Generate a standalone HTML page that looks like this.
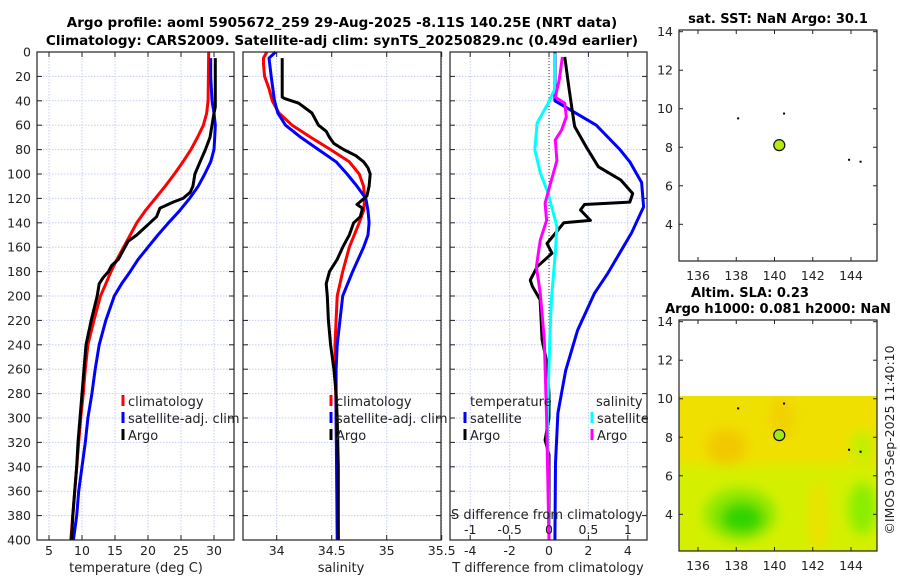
<!DOCTYPE html>
<html><head><meta charset="utf-8">
<style>
html,body{margin:0;padding:0;background:#fff;}
svg{display:block;font-family:"DejaVu Sans","Liberation Sans",sans-serif;}
</style></head>
<body>
<svg id="fig" width="900" height="580" viewBox="0 0 900 580" xmlns="http://www.w3.org/2000/svg">
<defs>
<filter id="blur" x="-20%" y="-20%" width="140%" height="140%"><feGaussianBlur stdDeviation="6"/></filter>
<clipPath id="mapclip"><rect x="679" y="396" width="198" height="155"/></clipPath>
</defs>
<text x="342" y="27" text-anchor="middle" font-size="13.5" font-weight="bold">Argo profile: aoml 5905672_259 29-Aug-2025 -8.11S 140.25E (NRT data)</text>
<text x="342" y="45" text-anchor="middle" font-size="13.5" font-weight="bold">Climatology: CARS2009. Satellite-adj clim: synTS_20250829.nc (0.49d earlier)</text>
<g id="g1"></g><g id="g2"></g><g id="g3"></g><g id="gm"></g>
<text transform="translate(894,440) rotate(-90)" text-anchor="middle" font-size="12.5" fill="#222">©IMOS 03-Sep-2025 11:40:10</text>
</svg>
<script>
// ---- data ----
const depthTicks=[0,20,40,60,80,100,120,140,160,180,200,220,240,260,280,300,320,340,360,380,400];
const tempTicks=[5,10,15,20,25,30];
const salTicks=[34,34.5,35,35.5];
const tdiffTicks=[-4,-2,0,2,4];
const sdiffTicks=[-1,-0.5,0,0.5,1];
const sdiffTickLabels=["-1","-0.5","0","0.5","1"];
const salTickLabels=["34","34.5","35","35.5"];

const climDepth=[0,40,50,60,70,80,90,100,110,120,130,140,150,160,170,180,190,200,220,240,260,280,300,320,340,360,380,400];
const climTemp=[29.2,29.1,28.9,28.4,27.5,26.5,25.3,24.0,22.6,21.1,19.6,18.3,17.3,16.3,15.3,14.4,13.6,12.8,11.8,10.9,10.5,10.2,9.8,9.5,9.2,8.9,8.6,8.3];
const climSalDepth=[0,5,10,20,30,40,50,60,70,80,90,100,110,120,130,140,160,180,200,240,300,400];
const climSal=[33.91,33.88,33.88,33.89,33.93,33.96,34.02,34.14,34.31,34.49,34.66,34.75,34.79,34.80,34.79,34.75,34.66,34.60,34.55,34.53,34.54,34.56];

const satDepth=[5,20,40,50,60,70,80,90,100,110,120,130,140,150,160,170,180,190,200,220,240,260,280,300,320,340,360,380,400];
const satTemp=[29.5,29.5,29.7,30.0,30.2,30.1,30.0,29.5,28.6,27.6,26.3,24.8,23.1,21.5,20.0,18.5,17.3,16.0,14.9,13.6,12.6,12.0,11.5,10.9,10.5,10.0,9.5,9.2,8.7];
const satSalDepth=[0,5,20,40,50,60,70,80,90,100,110,120,130,140,150,160,180,200,240,260,300,400];
const satSal=[33.99,33.93,33.95,33.98,34.01,34.08,34.22,34.38,34.54,34.64,34.73,34.81,34.83,34.84,34.83,34.79,34.69,34.60,34.55,34.54,34.54,34.55];

const argoDepth=[5,45,50,60,70,80,90,100,110,115,120,123,128,135,140,145,150,155,160,170,175,180,185,190,200,220,240,260,280,300,320,340,360,380,400];
const argoTemp=[30.2,30.2,30.0,29.7,29.4,28.7,27.9,27.1,26.8,26.4,25.3,23.8,21.8,21.3,20.3,19.3,18.3,17.0,16.5,15.5,14.5,14.0,13.2,12.6,12.3,11.4,10.6,10.3,10.0,9.7,9.4,9.2,8.9,8.6,8.4];
const argoSalDepth=[5,37,38,42,50,60,65,70,75,80,85,90,95,100,110,118,125,128,135,140,150,160,170,180,190,200,220,240,260,280,300,340,400];
const argoSal=[34.05,34.05,34.07,34.20,34.32,34.38,34.45,34.48,34.52,34.61,34.72,34.79,34.83,34.85,34.84,34.82,34.73,34.78,34.76,34.70,34.66,34.60,34.55,34.48,34.45,34.46,34.47,34.49,34.52,34.54,34.55,34.56,34.56];

const tSatDiffDepth=[0,40,60,80,90,107,127,148,181,198,228,261,296,337,400];
const tSatDiff=[0.3,0.3,2.4,3.6,4.1,4.7,4.8,4.2,3.0,2.3,1.45,0.85,0.45,0.33,0.3];
const tArgoDiffDepth=[4,28,45,61,78,94,105,116,123,125,129.5,138,140,148,157,165,176,187,192,203,236,255,280,300,318,330,400];
const tArgoDiff=[0.8,1.0,1.15,1.3,1.9,2.5,3.65,4.25,4.1,1.8,1.6,2.1,0.75,0.35,-0.1,0.15,-0.6,-0.95,-0.85,-0.45,-0.35,-0.1,0,0,-0.2,0,0];
const sSatDiffDepth=[1,31,42,58,80,99,116,143,165,203,236,300,400];
const sSatDiff=[0.07,0.07,-0.01,-0.15,-0.18,-0.11,-0.01,0.1,0.08,0.03,0.01,-0.02,0];
const sArgoDiffDepth=[4,23,37,42,53,64,72,89,105,124,138,154,176,198,236,300,400];
const sArgoDiff=[0.17,0.13,0.08,0.2,0.22,0.16,0.08,0.1,0.03,-0.05,-0.03,-0.11,-0.16,-0.11,-0.06,-0.03,0];

const latTicks=[4,6,8,10,12,14];
const lonTicks=[136,138,140,142,144];
const argoLon=[140.25];
const argoLat=[8.11];
const coastLon=[138.1,140.5,143.9,144.5];
const coastLat=[9.5,9.75,7.35,7.25];

// ---- helpers ----
const NS='http://www.w3.org/2000/svg';
function mk(parent,tag,attrs,text){const e=document.createElementNS(NS,tag);for(const k in attrs)e.setAttribute(k,attrs[k]);if(text!==undefined)e.textContent=text;parent.appendChild(e);return e;}
const TOP=52,BOT=540;
const yD=d=>TOP+d*(BOT-TOP)/400;
function linScale(v0,p0,v1,p1){return v=>p0+(v-v0)*(p1-p0)/(v1-v0);}

function drawPanel(gid,L,R,xs,xticks,xtlabels,name,yLabels){
  const g=document.getElementById(gid);
  
  
  const grid=mk(g,'g',{});
  
  
  depthTicks.forEach(d=>{
    const l=mk(grid,'line',{x1:L,x2:R,y1:yD(d),y2:yD(d),stroke:'#c5cdf0','stroke-width':1,'stroke-dasharray':'1.5,1.5'});
    
    
    mk(g,'line',{x1:L,x2:L+5,y1:yD(d),y2:yD(d),stroke:'#222'});
    mk(g,'line',{x1:R-5,x2:R,y1:yD(d),y2:yD(d),stroke:'#222'});
    if(yLabels){const t=mk(g,'text',{x:L-6,y:yD(d)+4.5,'text-anchor':'end','font-size':12.5,fill:'#222'},String(d));
      
      }
  });
  xticks.forEach((v,i)=>{
    const x=xs(v);
    const l=mk(grid,'line',{x1:x,x2:x,y1:TOP,y2:BOT,stroke:'#c5cdf0','stroke-width':1,'stroke-dasharray':'1.5,1.5'});
    
    
    mk(g,'line',{x1:x,x2:x,y1:BOT,y2:BOT-5,stroke:'#222'});
    mk(g,'line',{x1:x,x2:x,y1:TOP,y2:TOP+5,stroke:'#222'});
    const t=mk(g,'text',{x:x,y:555,'text-anchor':'middle','font-size':12.5,fill:'#222'},xtlabels[i]);
    
    
  });
  return g;
}
function series(g,xs,depths,vals,color,name,w){
  const pts=depths.map((d,i)=>xs(vals[i]).toFixed(1)+','+yD(d).toFixed(1)).join(' ');
  const p=mk(g,'polyline',{points:pts,fill:'none',stroke:color,'stroke-width':w||3,'stroke-linejoin':'round'});
  
  
}
function frame(g,L,R){mk(g,'rect',{x:L,y:TOP,width:R-L,height:BOT-TOP,fill:'none',stroke:'#222','stroke-width':1.2});}
function legend(g,x,y,color,label,name){
  const m=mk(g,'rect',{x:x-1.5,y:y-11,width:3,height:11,fill:color});
  
  
  const t=mk(g,'text',{x:x+5,y:y,'font-size':13,fill:'#222'},label);
  
  
}

// Panel 1: temperature
const xT=linScale(5,49,30,214);
let g=drawPanel('g1',37,234,xT,tempTicks,tempTicks.map(String),'temperature-panel',true);
series(g,xT,climDepth,climTemp,'#ff0000','temp-climatology-line');
series(g,xT,satDepth,satTemp,'#0000ff','temp-satellite-line');
series(g,xT,argoDepth,argoTemp,'#000000','temp-argo-line');
frame(g,37,234);
legend(g,123,406,'#ff0000','climatology','legend-climatology');
legend(g,123,423,'#0000ff','satellite-adj. clim','legend-satellite');
legend(g,123,440,'#000000','Argo','legend-argo');
let t=mk(g,'text',{x:136,y:572,'text-anchor':'middle','font-size':13,fill:'#222'},'temperature (deg C)');



// Panel 2: salinity
const xS=linScale(34,276.7,35,386.7);
g=drawPanel('g2',243,441,xS,salTicks,salTickLabels,'salinity-panel',false);
series(g,xS,climSalDepth,climSal,'#ff0000','sal-climatology-line');
series(g,xS,satSalDepth,satSal,'#0000ff','sal-satellite-line');
series(g,xS,argoSalDepth,argoSal,'#000000','sal-argo-line');
frame(g,243,441);
legend(g,331,406,'#ff0000','climatology','legend-climatology');
legend(g,331,423,'#0000ff','satellite-adj. clim','legend-satellite');
legend(g,331,440,'#000000','Argo','legend-argo');
t=mk(g,'text',{x:341,y:572,'text-anchor':'middle','font-size':13,fill:'#222'},'salinity');



// Panel 3: differences
const xTd=linScale(0,549,4,627.8);
const xSd=linScale(0,549,1,627.8);
g=drawPanel('g3',450,647,xTd,tdiffTicks,tdiffTicks.map(String),'difference-panel',false);
const zl=mk(g,'line',{x1:549,x2:549,y1:TOP,y2:BOT,stroke:'#333','stroke-width':1,'stroke-dasharray':'1,2'});


series(g,xTd,tSatDiffDepth,tSatDiff,'#0000ff','tdiff-satellite-line');
series(g,xTd,tArgoDiffDepth,tArgoDiff,'#000000','tdiff-argo-line');
series(g,xSd,sSatDiffDepth,sSatDiff,'#00ffff','sdiff-satellite-line');
series(g,xSd,sArgoDiffDepth,sArgoDiff,'#ff00ff','sdiff-argo-line');
frame(g,450,647);
t=mk(g,'text',{x:470,y:406,'font-size':13,fill:'#222'},'temperature');


t=mk(g,'text',{x:596,y:406,'font-size':13,fill:'#222'},'salinity');


legend(g,465,423,'#0000ff','satellite','legend-t-satellite');
legend(g,465,440,'#000000','Argo','legend-t-argo');
legend(g,592,423,'#00ffff','satellite','legend-s-satellite');
legend(g,592,440,'#ff00ff','Argo','legend-s-argo');
t=mk(g,'text',{x:451,y:519,'font-size':13,fill:'#222'},'S difference from climatology');


sdiffTicks.forEach((v,i)=>{
  const tl=mk(g,'text',{x:xSd(v),y:534,'text-anchor':'middle','font-size':12.5,fill:'#222'},sdiffTickLabels[i]);
  
  
});
t=mk(g,'text',{x:548,y:572,'text-anchor':'middle','font-size':13,fill:'#222'},'T difference from climatology');



// Maps
const gm=document.getElementById('gm');
const xLon=linScale(136,698,144,851);
function drawMap(oy,title,name,dotColor,heat){
  const mg=mk(gm,'g',{});
  
  
  const yLat=linScale(14,31.7+oy,4,224.3+oy);
  if(heat){
    const hg=mk(mg,'g',{'clip-path':'url(#mapclip)'});
    
    
    mk(hg,'rect',{x:679,y:396,width:198,height:155,fill:'#d4f000'});
    const bl=mk(hg,'g',{filter:'url(#blur)'});
    mk(bl,'rect',{x:660,y:380,width:240,height:85,fill:'#f0e000'});
    mk(bl,'ellipse',{cx:xLon(137.5),cy:yLat(7.5),rx:20,ry:18,fill:'#f2c800'});
    mk(bl,'ellipse',{cx:xLon(140.4),cy:yLat(9.0),rx:12,ry:22,fill:'#f2d000'});
    mk(bl,'ellipse',{cx:xLon(142.3),cy:yLat(3.8),rx:9,ry:40,fill:'#eee000'});
    mk(bl,'ellipse',{cx:xLon(138.2),cy:yLat(4.0),rx:36,ry:26,fill:'#8ee800'});
    mk(bl,'ellipse',{cx:xLon(138.3),cy:yLat(3.8),rx:22,ry:16,fill:'#30d400'});
    mk(bl,'ellipse',{cx:xLon(144.6),cy:yLat(4.3),rx:14,ry:26,fill:'#8aee00'});
    mk(bl,'ellipse',{cx:xLon(144.6),cy:yLat(7.5),rx:12,ry:16,fill:'#c0f000'});
  }
  mk(mg,'rect',{x:679,y:30+oy,width:198,height:231,fill:'none',stroke:'#222','stroke-width':1.2});
  latTicks.forEach(v=>{
    mk(mg,'line',{x1:679,x2:683,y1:yLat(v),y2:yLat(v),stroke:'#222'});
    mk(mg,'line',{x1:873,x2:877,y1:yLat(v),y2:yLat(v),stroke:'#222'});
    const tl=mk(mg,'text',{x:673,y:yLat(v)+4.5,'text-anchor':'end','font-size':12.5,fill:'#222'},String(v));
    
    
  });
  lonTicks.forEach(v=>{
    mk(mg,'line',{x1:xLon(v),x2:xLon(v),y1:261+oy,y2:257+oy,stroke:'#222'});
    mk(mg,'line',{x1:xLon(v),x2:xLon(v),y1:30+oy,y2:34+oy,stroke:'#222'});
    const tl=mk(mg,'text',{x:xLon(v),y:280+oy,'text-anchor':'middle','font-size':12.5,fill:'#222'},String(v));
    
    
  });
  coastLon.forEach((v,i)=>{
    const c=mk(mg,'rect',{x:xLon(v)-1,y:yLat(coastLat[i])-1,width:2,height:2,fill:'#000'});
    
    
  });
  argoLon.forEach((v,i)=>{
    const c=mk(mg,'circle',{cx:xLon(v),cy:yLat(argoLat[i]),r:5.5,fill:dotColor,stroke:'#111','stroke-width':1.2});
    
    
  });
  const tt=mk(mg,'text',{x:778,y:23+oy,'text-anchor':'middle','font-size':13,'font-weight':'bold'},title);
  
  
}
drawMap(0,'sat. SST: NaN Argo: 30.1','sst-map','#b8ea10',false);
t=mk(gm,'text',{x:750,y:297,'text-anchor':'middle','font-size':13,'font-weight':'bold'},'Altim. SLA: 0.23');


drawMap(290,'Argo h1000: 0.081 h2000: NaN','sla-map','#a0e81a',true);
</script>
</body></html>
